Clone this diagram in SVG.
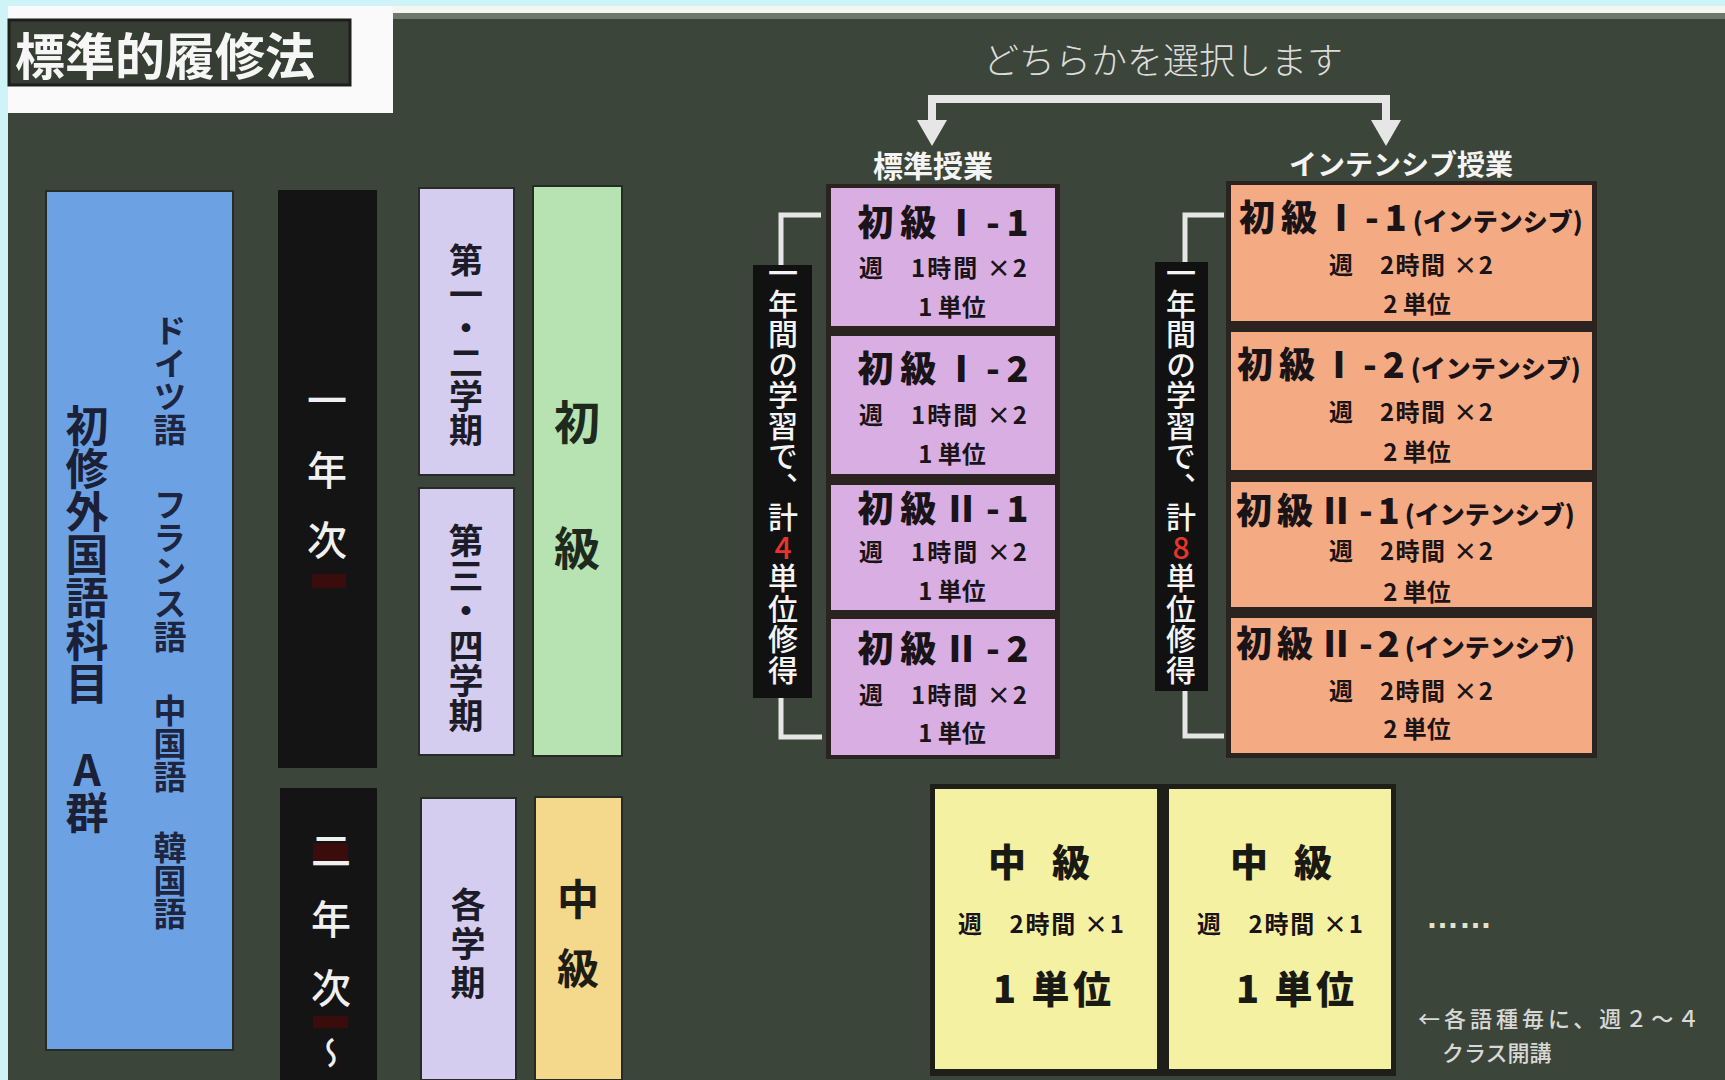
<svg xmlns="http://www.w3.org/2000/svg" width="1725" height="1080" viewBox="0 0 1725 1080">
<defs>
<style>
text{font-family:"Noto Sans CJK JP","Noto Sans CJK SC","Noto Sans",sans-serif}
.v{writing-mode:vertical-rl;text-orientation:upright}
.col{stroke:#262b24;stroke-width:2}
.ink{fill:#1c1c28}
.ttl{font-size:36px;font-weight:900;fill:#1a1418}
.sub{font-size:24px;font-weight:700;fill:#1a1418}
.pur{fill:#d9aee2;stroke:#2a2320;stroke-width:2}
.ora{fill:#f4ab83;stroke:#2a2320;stroke-width:2}
.yel{fill:#f5f1a3;stroke:#1f1f1a;stroke-width:2}
.lbl{font-size:30px;font-weight:500;fill:#f4f4f4;letter-spacing:0.5px}
.red{fill:#e8342a}
.br{fill:none;stroke:#e6e6e6;stroke-width:5}
.note{fill:#d8d8d8;font-size:22px;font-weight:500}
.par{font-size:25px;letter-spacing:0}
</style>
<marker id="ah" viewBox="0 0 26 30" refX="12" refY="15" markerWidth="26" markerHeight="30" markerUnits="userSpaceOnUse" orient="auto">
<path d="M0,0 L26,15 L0,30 z" fill="#e6e6e6"/>
</marker>
</defs>

<rect x="0" y="0" width="1725" height="1080" fill="#cff4f7"/>
<rect x="8" y="6" width="1717" height="8" fill="#f4f6f2"/>
<rect x="8" y="6" width="385" height="107" fill="#fafafa"/>
<path d="M393,13 H1725 V1080 H8 V113 H393 Z" fill="#3c4539"/>
<rect x="393" y="13" width="1332" height="6" fill="#6e786a"/>

<g id="title">
<rect x="9" y="20" width="341" height="65" fill="#363e33" stroke="#1c1f1a" stroke-width="3"/>
<text x="15" y="75" font-size="50" font-weight="700" fill="#f6f6f6">標準的履修法</text>
</g>

<g id="group-a">
<rect class="col" x="46" y="191" width="187" height="859" fill="#6ca2e4"/>
<text class="v" x="87" y="404" font-size="43" font-weight="700" fill="#1b2036">初修外国語科目　A群</text>
<text class="v" x="170" y="314" font-size="33" font-weight="700" fill="#1d2540"><tspan x="170" y="314">ドイツ語　</tspan><tspan x="170" y="488">フランス語　</tspan><tspan x="170" y="694">中国語　</tspan><tspan x="170" y="831">韓国語</tspan></text>
</g>

<g id="year1">
<rect x="278" y="190" width="99" height="578" fill="#141414"/>
<rect x="312" y="574" width="34" height="14" fill="#3a0c0c"/>
<text class="v" x="327" y="380" font-size="40" font-weight="500" fill="#f0f0f0" letter-spacing="30">一年次</text>
</g>

<g id="year2">
<rect x="280" y="788" width="97" height="292" fill="#141414"/>
<rect x="313" y="843" width="35" height="20" fill="#3a0c0c"/>
<rect x="313" y="1016" width="35" height="12" fill="#3a0c0c"/>
<text class="v" x="331" y="830" font-size="40" font-weight="500" fill="#f0f0f0" letter-spacing="29">二年次<tspan font-size="32" letter-spacing="0">～</tspan></text>
</g>

<g id="term12">
<rect class="col" x="419" y="188" width="95" height="287" fill="#d5cdf0"/>
<text class="v ink" x="466" y="243" font-size="34" font-weight="700">第一・二学期</text>
</g>
<g id="term34">
<rect class="col" x="419" y="488" width="95" height="267" fill="#d5cdf0"/>
<text class="v ink" x="466" y="523" font-size="35" font-weight="700">第三・四学期</text>
</g>
<g id="term-each">
<rect class="col" x="421" y="798" width="95" height="282" fill="#d5cdf0"/>
<text class="v ink" x="468" y="887" font-size="35" font-weight="700" letter-spacing="4">各学期</text>
</g>

<g id="level-beginner">
<rect class="col" x="533" y="186" width="89" height="570" fill="#b6e3b1"/>
<text class="v" x="577" y="399" font-size="46" font-weight="700" fill="#1d2a1d" letter-spacing="80">初級</text>
</g>
<g id="level-intermediate">
<rect class="col" x="535" y="797" width="87" height="283" fill="#f4d98c"/>
<text class="v" x="578" y="878" font-size="42" font-weight="700" fill="#1d1d14" letter-spacing="27">中級</text>
</g>

<g id="connectors">
<path d="M932,132 V99 H1386 V132" fill="none" stroke="#e6e6e6" stroke-width="8" marker-end="url(#ah)"/>
<path d="M932,99 V132" fill="none" stroke="#e6e6e6" stroke-width="8" marker-end="url(#ah)"/>
<path class="br" d="M821,215 H781 V737 H822"/>
<path class="br" d="M1224,215 H1185 V736 H1224"/>
</g>

<text x="1163" y="74" font-size="36" font-weight="300" fill="#dcdcdc" text-anchor="middle">どちらかを選択します</text>
<text x="933" y="177" font-size="30" font-weight="700" fill="#f4f4f4" text-anchor="middle">標準授業</text>
<text x="1401" y="175" font-size="28" font-weight="700" fill="#f4f4f4" text-anchor="middle">インテンシブ授業</text>

<g id="std-label">
<rect x="753" y="265" width="59" height="433" fill="#111"/>
<text class="v lbl" x="783" y="258">一年間の学習で、計<tspan class="red">4</tspan>単位修得</text>
</g>
<g id="int-label">
<rect x="1155" y="262" width="53" height="429" fill="#111"/>
<text class="v lbl" x="1181" y="258">一年間の学習で、計<tspan class="red">8</tspan>単位修得</text>
</g>

<rect x="826" y="184" width="234" height="575" fill="#2a2320"/>
<g id="std-1-1">
<rect class="pur" x="830" y="187" width="226" height="140"/>
<text class="ttl" x="943" y="236" text-anchor="middle" textLength="171" lengthAdjust="spacing">初級Ⅰ-1</text>
<text class="sub" x="943" y="277" text-anchor="middle" textLength="168" lengthAdjust="spacing">週　1時間 ×2</text>
<text class="sub" x="952" y="316" text-anchor="middle">1 単位</text>
</g>
<g id="std-1-2">
<rect class="pur" x="830" y="335" width="226" height="140"/>
<text class="ttl" x="943" y="382" text-anchor="middle" textLength="171" lengthAdjust="spacing">初級Ⅰ-2</text>
<text class="sub" x="943" y="424" text-anchor="middle" textLength="168" lengthAdjust="spacing">週　1時間 ×2</text>
<text class="sub" x="952" y="463" text-anchor="middle">1 単位</text>
</g>
<g id="std-2-1">
<rect class="pur" x="830" y="484" width="226" height="127"/>
<text class="ttl" x="943" y="522" text-anchor="middle" textLength="171" lengthAdjust="spacing">初級Ⅱ-1</text>
<text class="sub" x="943" y="561" text-anchor="middle" textLength="168" lengthAdjust="spacing">週　1時間 ×2</text>
<text class="sub" x="952" y="600" text-anchor="middle">1 単位</text>
</g>
<g id="std-2-2">
<rect class="pur" x="830" y="618" width="226" height="138"/>
<text class="ttl" x="943" y="662" text-anchor="middle" textLength="171" lengthAdjust="spacing">初級Ⅱ-2</text>
<text class="sub" x="943" y="704" text-anchor="middle" textLength="168" lengthAdjust="spacing">週　1時間 ×2</text>
<text class="sub" x="952" y="742" text-anchor="middle">1 単位</text>
</g>

<rect x="1226" y="181" width="371" height="577" fill="#2a2320"/>
<g id="int-1-1">
<rect class="ora" x="1230" y="184" width="363" height="138"/>
<text class="ttl" x="1239" y="231"><tspan letter-spacing="6">初級Ⅰ-1</tspan><tspan class="par">(インテンシブ)</tspan></text>
<text class="sub" x="1411" y="274" text-anchor="middle" textLength="164" lengthAdjust="spacing">週　2時間 ×2</text>
<text class="sub" x="1417" y="313" text-anchor="middle">2 単位</text>
</g>
<g id="int-1-2">
<rect class="ora" x="1230" y="331" width="363" height="140"/>
<text class="ttl" x="1237" y="378"><tspan letter-spacing="6">初級Ⅰ-2</tspan><tspan class="par">(インテンシブ)</tspan></text>
<text class="sub" x="1411" y="421" text-anchor="middle" textLength="164" lengthAdjust="spacing">週　2時間 ×2</text>
<text class="sub" x="1417" y="461" text-anchor="middle">2 単位</text>
</g>
<g id="int-2-1">
<rect class="ora" x="1230" y="481" width="363" height="127"/>
<text class="ttl" x="1236" y="524"><tspan letter-spacing="5">初級Ⅱ-1</tspan><tspan class="par">(インテンシブ)</tspan></text>
<text class="sub" x="1411" y="560" text-anchor="middle" textLength="164" lengthAdjust="spacing">週　2時間 ×2</text>
<text class="sub" x="1417" y="601" text-anchor="middle">2 単位</text>
</g>
<g id="int-2-2">
<rect class="ora" x="1230" y="617" width="363" height="137"/>
<text class="ttl" x="1236" y="657"><tspan letter-spacing="5">初級Ⅱ-2</tspan><tspan class="par">(インテンシブ)</tspan></text>
<text class="sub" x="1411" y="700" text-anchor="middle" textLength="164" lengthAdjust="spacing">週　2時間 ×2</text>
<text class="sub" x="1417" y="738" text-anchor="middle">2 単位</text>
</g>

<rect x="930" y="784" width="466" height="292" fill="#1f1f1a"/>
<g id="mid-1">
<rect class="yel" x="934" y="788" width="224" height="282"/>
<text x="1039" y="876" font-size="38" font-weight="900" fill="#1a1a14" text-anchor="middle" textLength="102" lengthAdjust="spacing">中級</text>
<text class="sub" x="1041" y="933" text-anchor="middle" textLength="166" lengthAdjust="spacing">週　2時間 ×1</text>
<text x="1052" y="1003" font-size="38" font-weight="900" fill="#1a1a14" text-anchor="middle" textLength="118" lengthAdjust="spacing">1 単位</text>
</g>
<g id="mid-2">
<rect class="yel" x="1168" y="788" width="224" height="282"/>
<text x="1281" y="876" font-size="38" font-weight="900" fill="#1a1a14" text-anchor="middle" textLength="102" lengthAdjust="spacing">中級</text>
<text class="sub" x="1280" y="933" text-anchor="middle" textLength="166" lengthAdjust="spacing">週　2時間 ×1</text>
<text x="1295" y="1003" font-size="38" font-weight="900" fill="#1a1a14" text-anchor="middle" textLength="118" lengthAdjust="spacing">1 単位</text>
</g>

<text x="1459" y="928" font-size="33" font-weight="700" fill="#e4e4cc" text-anchor="middle" style="font-family:'Liberation Sans',sans-serif">……</text>
<text class="note" x="1418" y="1027"><tspan x="1418" y="1027" letter-spacing="4">←各語種毎に、週２～４</tspan><tspan x="1442" y="1061">クラス開講</tspan></text>
</svg>
